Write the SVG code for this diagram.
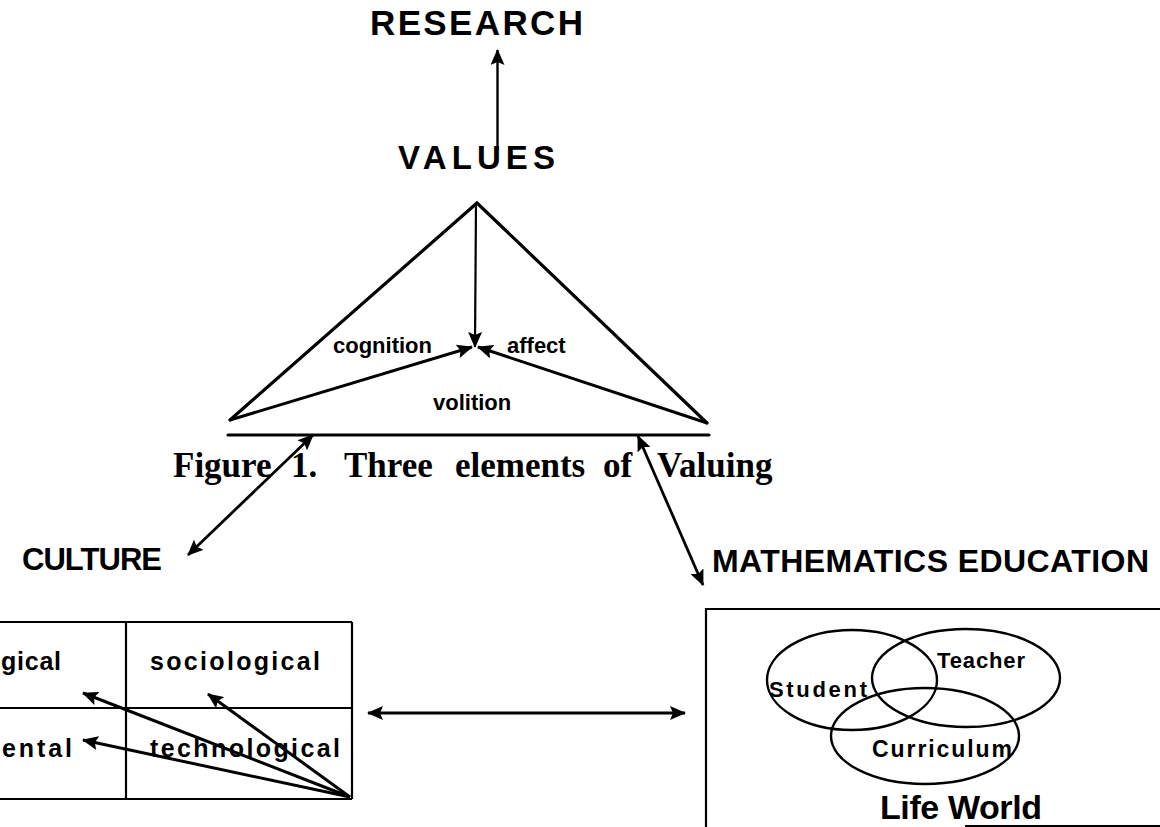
<svg xmlns="http://www.w3.org/2000/svg" width="1160" height="827" viewBox="0 0 1160 827">
  <style>
    .head { font-family: "Liberation Sans", Arial, sans-serif; font-weight: bold; fill: #000; }
    .lbl { font-family: "Liberation Sans", Arial, sans-serif; font-weight: bold; fill: #000; }
    .cap { font-family: "Liberation Serif", "Times New Roman", serif; font-weight: bold; fill: #000; font-size: 35px; }
    .edge { stroke: #000; fill: none; stroke-linecap: round; }
    .box { stroke: #000; fill: none; stroke-width: 2.2; }
    .conn { stroke: #000; fill: none; stroke-width: 2.8; }
  </style>
  <defs>
    <marker id="ah" viewBox="0 0 16 14" refX="15" refY="7" markerWidth="16" markerHeight="14" markerUnits="userSpaceOnUse" orient="auto-start-reverse">
      <path d="M0,0 L16,7 L0,14 L3,7 z" fill="#000"/>
    </marker>
  </defs>
  <rect width="1160" height="827" fill="#fff"/>

  <!-- top heading -->
  <g id="research">
    <text class="head" x="370" y="35" font-size="35" textLength="213" lengthAdjust="spacing">RESEARCH</text>
  </g>

  <!-- values triangle with its three elements -->
  <g id="values">
    <text class="head" x="398" y="169" font-size="33" textLength="157" lengthAdjust="spacing">VALUES</text>
    <polyline class="edge" stroke-width="3.2" points="230,420 477,203 707,423"/>
    <text class="lbl" x="333" y="353" font-size="22">cognition</text>
    <text class="lbl" x="507" y="353" font-size="22">affect</text>
    <text class="lbl" x="433" y="410" font-size="22">volition</text>
    <line class="edge" stroke-width="3.2" x1="228" y1="435" x2="709" y2="435"/>
  </g>

  <!-- figure caption -->
  <g id="caption" class="cap">
    <text x="173" y="477">Figure</text>
    <text x="291" y="477">1.</text>
    <text x="344" y="477">Three</text>
    <text x="455" y="477">elements</text>
    <text x="603" y="477">of</text>
    <text x="657" y="477">Valuing</text>
  </g>

  <!-- culture grid -->
  <g id="culture">
    <text class="head" x="22" y="570" font-size="31" textLength="140" lengthAdjust="spacing">CULTURE</text>
    <line class="box" x1="0" y1="622" x2="352" y2="622"/>
    <line class="box" x1="0" y1="708" x2="352" y2="708"/>
    <line class="box" x1="0" y1="799" x2="352" y2="799"/>
    <line class="box" x1="126" y1="622" x2="126" y2="799"/>
    <line class="box" x1="352" y1="622" x2="352" y2="799"/>
    <text class="lbl" x="1" y="670" font-size="25" textLength="60" lengthAdjust="spacing">gical</text>
    <text class="lbl" x="150" y="670" font-size="25" textLength="170" lengthAdjust="spacing">sociological</text>
    <text class="lbl" x="2" y="757" font-size="25" textLength="70" lengthAdjust="spacing">ental</text>
    <text class="lbl" x="150" y="757" font-size="25" textLength="190" lengthAdjust="spacing">technological</text>
  </g>

  <!-- mathematics education life world -->
  <g id="math-education">
    <text class="head" x="712" y="572" font-size="32" textLength="437" lengthAdjust="spacing">MATHEMATICS EDUCATION</text>
    <polyline class="box" points="706,827 706,609 1160,609"/>
    <line class="box" x1="965" y1="826" x2="1160" y2="826"/>
    <ellipse class="edge" stroke-width="2.4" cx="852" cy="680" rx="85" ry="50"/>
    <ellipse class="edge" stroke-width="2.4" cx="966" cy="678" rx="94" ry="49"/>
    <ellipse class="edge" stroke-width="2.4" cx="925" cy="736" rx="94" ry="48"/>
    <text class="lbl" x="769" y="697" font-size="22" textLength="98" lengthAdjust="spacing">Student</text>
    <text class="lbl" x="937" y="668" font-size="22" textLength="88" lengthAdjust="spacing">Teacher</text>
    <text class="lbl" x="872" y="757" font-size="23" textLength="140" lengthAdjust="spacing">Curriculum</text>
    <text class="lbl" x="880" y="819" font-size="34" textLength="162" lengthAdjust="spacing">Life World</text>
  </g>

  <!-- connectors -->
  <g id="connectors" class="conn">
    <line x1="497.5" y1="150" x2="497.5" y2="50" stroke-width="2.4" marker-end="url(#ah)"/>
    <line x1="476" y1="203" x2="475" y2="347" stroke-width="2.2" marker-end="url(#ah)"/>
    <line x1="230" y1="420" x2="472" y2="347" stroke-width="3" marker-end="url(#ah)"/>
    <line x1="707" y1="423" x2="478" y2="347" stroke-width="3" marker-end="url(#ah)"/>
    <line x1="313" y1="435" x2="188" y2="555" marker-start="url(#ah)" marker-end="url(#ah)"/>
    <line x1="638" y1="436" x2="703" y2="585" marker-start="url(#ah)" marker-end="url(#ah)"/>
    <line x1="368" y1="713" x2="685" y2="713" marker-start="url(#ah)" marker-end="url(#ah)"/>
    <line x1="350" y1="797" x2="83" y2="693" stroke-width="3" marker-end="url(#ah)"/>
    <line x1="350" y1="797" x2="208" y2="694" stroke-width="3" marker-end="url(#ah)"/>
    <line x1="350" y1="797" x2="83" y2="740" stroke-width="3" marker-end="url(#ah)"/>
  </g>
</svg>
